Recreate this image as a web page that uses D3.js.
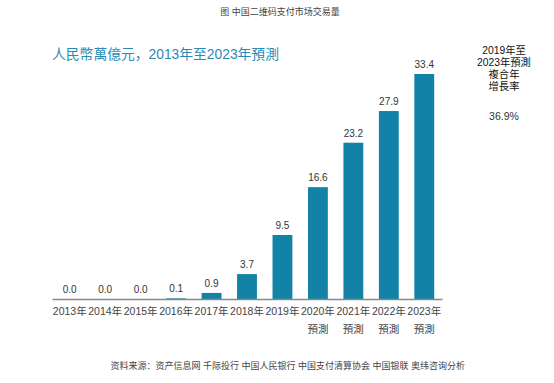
<!DOCTYPE html>
<html>
<head>
<meta charset="utf-8">
<script src="https://cdn.jsdelivr.net/npm/d3@7"></script>
<style>
  body { margin: 0; background: #fff; }
  text { font-family: "Liberation Sans", "Noto Sans CJK SC", sans-serif; }
</style>
</head>
<body>
<div class="chart"></div>
<script>
const years = ["2013年", "2014年", "2015年", "2016年", "2017年", "2018年", "2019年", "2020年", "2021年", "2022年", "2023年"]
const forecast = [false, false, false, false, false, false, false, true, true, true, true]
const values = [0.0, 0.0, 0.0, 0.1, 0.9, 3.7, 9.5, 16.6, 23.2, 27.9, 33.4]

const width = 554
const height = 383
const base = 299

const svg = d3.select(".chart").append("svg")
    .attr("width", width)
    .attr("height", height)

const x = d3.scaleBand()
    .domain(years)
    .range([52, 442])
    .paddingInner(0.44)
    .paddingOuter(0.22)

const y = d3.scaleLinear()
    .domain([0, 33.4])
    .range([base, 74])

svg.append("text")
    .attr("x", 280)
    .attr("y", 15)
    .attr("text-anchor", "middle")
    .attr("font-size", 9)
    .attr("fill", "#444")
    .text("图 中国二维码支付市场交易量")

svg.append("text")
    .attr("x", 52)
    .attr("y", 59)
    .attr("font-size", 13.8)
    .attr("fill", "#2a8ab6")
    .text("人民幣萬億元，2013年至2023年預測")

const cagr = ["2019年至", "2023年預測", "複合年", "增長率"]
svg.selectAll(".cagr")
    .data(cagr)
    .join("text")
    .attr("class", "cagr")
    .attr("x", 504)
    .attr("y", (d, i) => 54 + i * 12)
    .attr("text-anchor", "middle")
    .attr("font-size", 10.3)
    .attr("fill", "#111")
    .text(d => d)

svg.append("text")
    .attr("x", 504)
    .attr("y", 120)
    .attr("text-anchor", "middle")
    .attr("font-size", 10.5)
    .attr("fill", "#333")
    .text("36.9%")

svg.selectAll(".bar")
    .data(values)
    .join("rect")
    .attr("class", "bar")
    .attr("x", (d, i) => x(years[i]))
    .attr("y", d => y(d))
    .attr("width", x.bandwidth())
    .attr("height", d => base - y(d))
    .attr("fill", "#1283a7")

svg.selectAll(".val")
    .data(values)
    .join("text")
    .attr("class", "val")
    .attr("x", (d, i) => x(years[i]) + x.bandwidth() / 2)
    .attr("y", d => y(d) - 6)
    .attr("text-anchor", "middle")
    .attr("font-size", 10)
    .attr("fill", "#333")
    .text(d => d3.format(".1f")(d))

const xAxis = d3.axisBottom(x).tickSize(0).tickPadding(9)
svg.append("g")
    .attr("transform", `translate(0,${base})`)
    .call(xAxis)
    .call(g => g.select(".domain").attr("stroke", "#888").attr("stroke-width", 1.5))
    .call(g => g.selectAll(".tick text")
        .attr("font-size", 10.5)
        .attr("fill", "#444")
        .style("font-family", '"Liberation Sans", "Noto Sans CJK SC", sans-serif'))

svg.selectAll(".fc")
    .data(years.filter((d, i) => forecast[i]))
    .join("text")
    .attr("class", "fc")
    .attr("x", d => x(d) + x.bandwidth() / 2)
    .attr("y", 333)
    .attr("text-anchor", "middle")
    .attr("font-size", 10.5)
    .attr("fill", "#444")
    .text("預測")

svg.append("text")
    .attr("x", 465)
    .attr("y", 369)
    .attr("text-anchor", "end")
    .attr("font-size", 9)
    .attr("fill", "#444")
    .text("资料来源：资产信息网 千际投行 中国人民银行 中国支付清算协会 中国银联 奥纬咨询分析")
</script>
</body>
</html>
